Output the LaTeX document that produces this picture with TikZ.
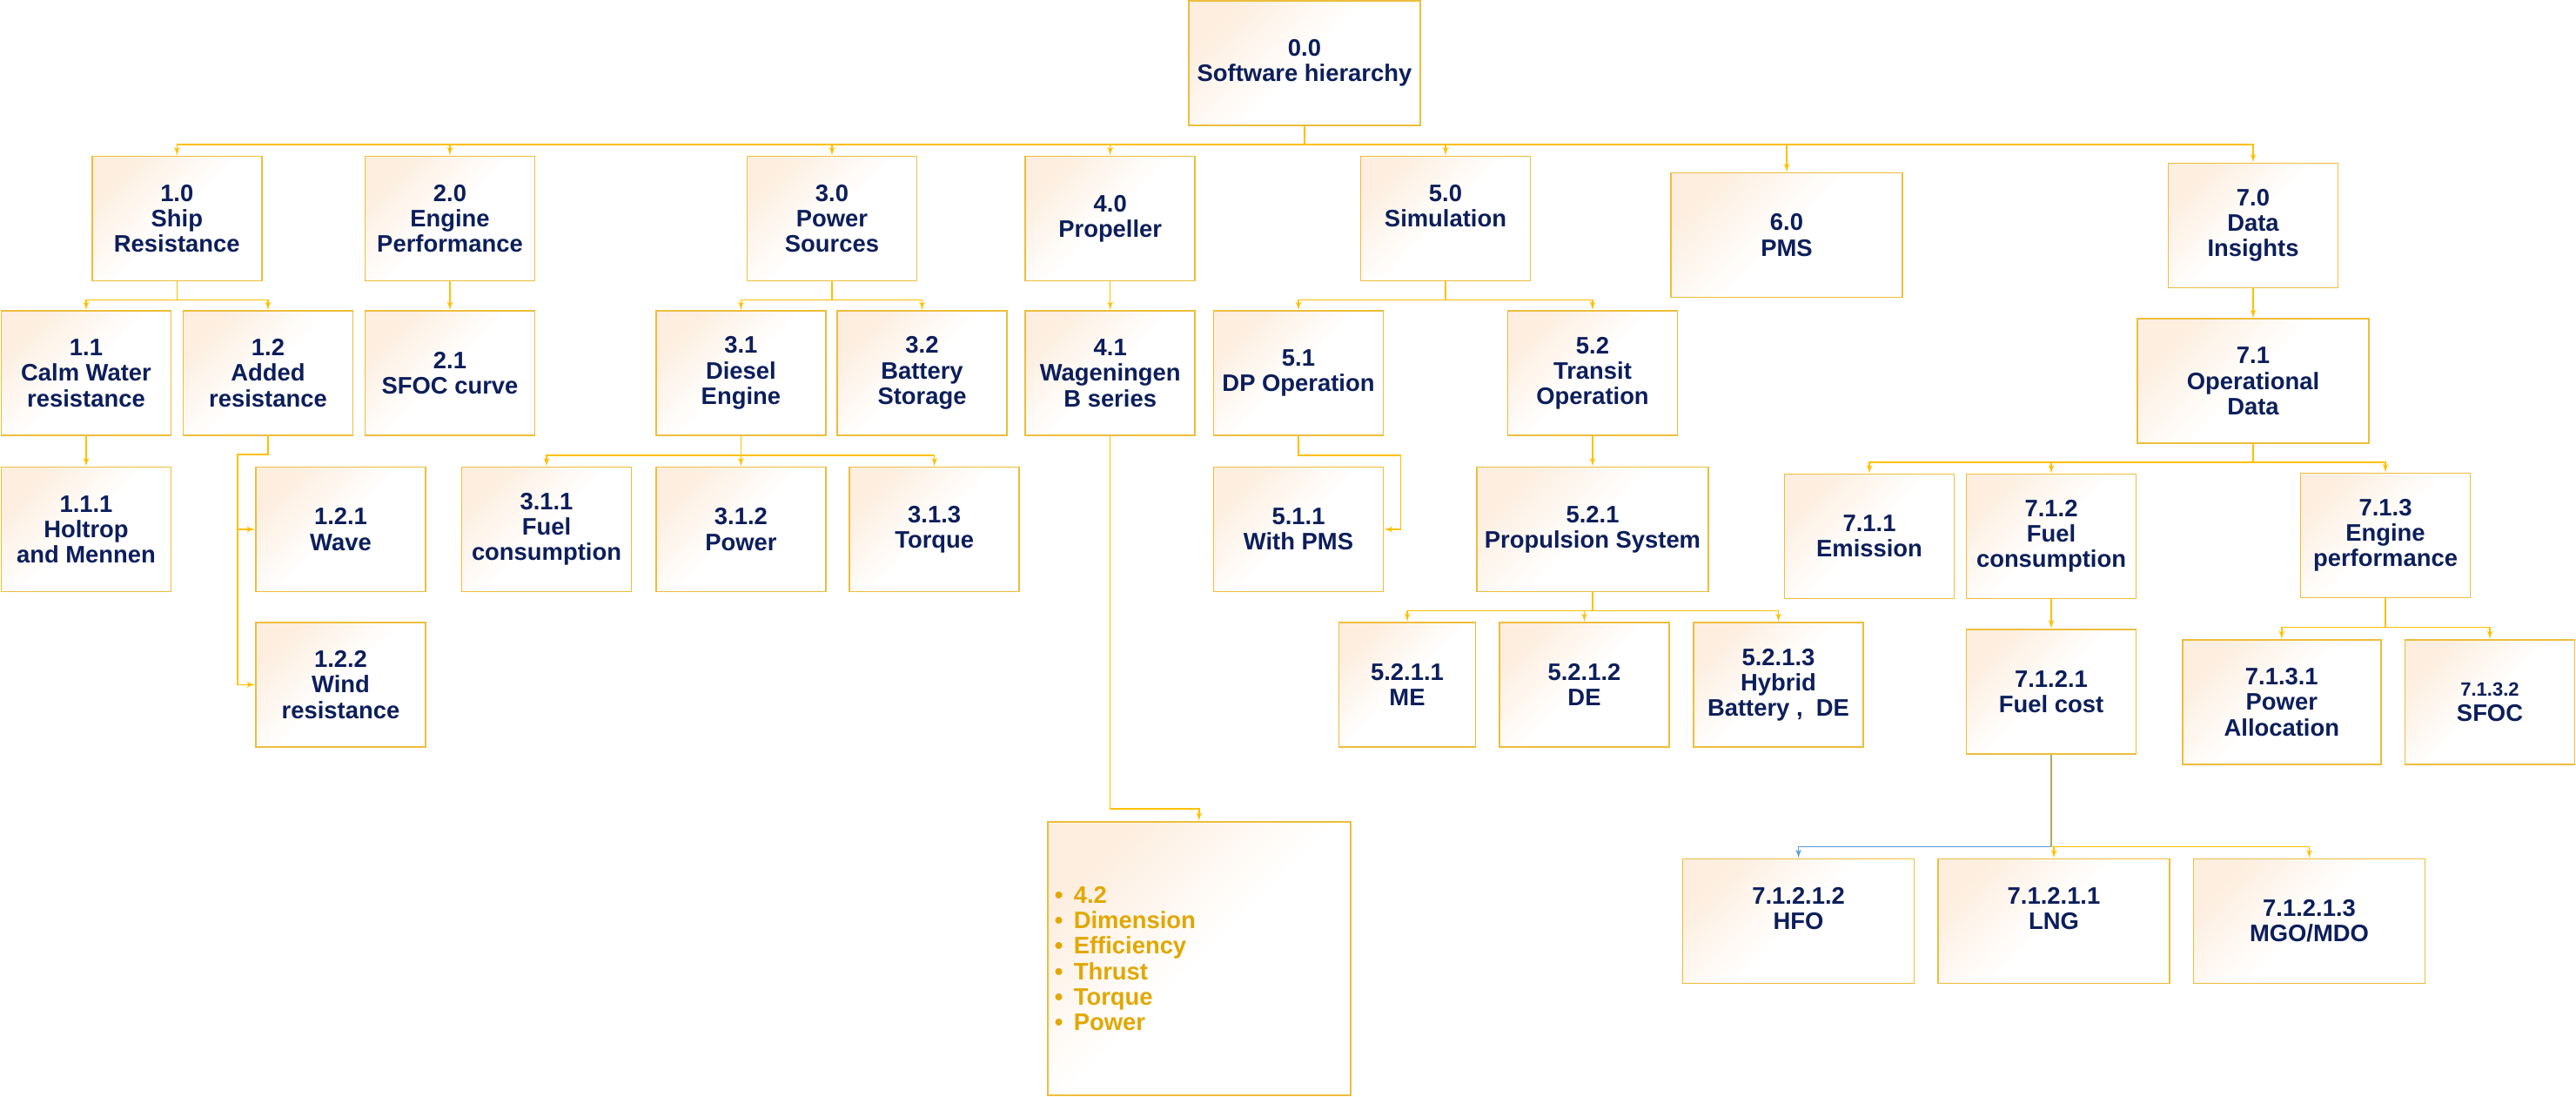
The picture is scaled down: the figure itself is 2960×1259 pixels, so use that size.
\documentclass[tikz,border=0pt]{standalone}
\usepackage{fontspec}
\setmainfont{Liberation Sans}
\usetikzlibrary{arrows}
\definecolor{navy}{HTML}{0C1E5B}
\definecolor{gold}{HTML}{E2A700}
\definecolor{frame}{HTML}{EDBE3C}
\definecolor{wire}{HTML}{FFC000}
\definecolor{peach}{HTML}{FDEEDF}
\definecolor{wireblue}{HTML}{5B9BD5}
\definecolor{wireolive}{HTML}{A9AC62}

\begin{document}
\begin{tikzpicture}[x=0.5pt,y=-0.5pt]
\tikzset{box/.style = {shape=rectangle,draw=frame,line width=0.85pt,top color=peach,bottom color=white,middle color=white,shading angle=45,minimum width=97.5pt,minimum height=71.5pt,inner sep=1pt,align=center,text=navy,font=\bfseries\fontsize{13.7}{14.6}\selectfont}}
\tikzset{wide/.style = {minimum width=133pt}}
\tikzset{edge/.style = {->,> = latex',color=wire,line width=0.7pt}}
\tikzset{stem/.style = {color=wireolive,line width=0.7pt}}
\useasboundingbox (0,0) rectangle (2960,1259);

% vertices
\node[box,wide] (n00) at (1499,72.5) {0.0\\Software hierarchy};

\node[box] (n10) at (203.3,251) {1.0\\Ship\\Resistance};
\node[box] (n20) at (517,251) {2.0\\Engine\\Performance};
\node[box] (n30) at (956,251) {3.0\\Power\\Sources};
\node[box] (n40) at (1275.7,251) {4.0\\Propeller};
\node[box] (n50) at (1661,251) {5.0\\Simulation\\\mbox{}};
\node[box,wide] (n60) at (2053,270) {6.0\\PMS};
\node[box] (n70) at (2589,259) {7.0\\Data\\Insights};

\node[box] (n11) at (99,428.5) {1.1\\Calm Water\\resistance};
\node[box] (n12) at (308,428.5) {1.2\\Added\\resistance};
\node[box] (n21) at (517,428.5) {2.1\\SFOC curve};
\node[box] (n31) at (851.4,428.5) {3.1\\Diesel\\Engine};
\node[box] (n32) at (1059.5,428.5) {3.2\\Battery\\Storage};
\node[box] (n41) at (1275.7,428.5) {4.1\\Wageningen\\B series};
\node[box] (n51) at (1492,428.5) {5.1\\DP Operation};
\node[box] (n52) at (1830,428.5) {5.2\\Transit\\Operation};
\node[box,wide] (n71) at (2589,437.7) {7.1\\Operational\\Data};

\node[box] (n111) at (99,608) {1.1.1\\Holtrop\\and Mennen};
\node[box] (n121) at (391.5,608) {1.2.1\\Wave};
\node[box] (n311) at (628,608) {3.1.1\\Fuel\\consumption};
\node[box] (n312) at (851.4,608) {3.1.2\\Power};
\node[box] (n313) at (1073.7,608) {3.1.3\\Torque};
\node[box] (n511) at (1492,608) {5.1.1\\With PMS};
\node[box,wide] (n521) at (1830,608) {5.2.1\\Propulsion System};
\node[box] (n711) at (2148,616) {7.1.1\\Emission};
\node[box] (n712) at (2357,616) {7.1.2\\Fuel\\consumption};
\node[box] (n713) at (2741,615) {7.1.3\\Engine\\performance};

\node[box] (n122) at (391.5,786.5) {1.2.2\\Wind\\resistance};
\node[box,minimum width=78.5pt] (n5211) at (1617,786.5) {5.2.1.1\\ME};
\node[box] (n5212) at (1820.5,786.5) {5.2.1.2\\DE};
\node[box] (n5213) at (2043.5,786.5) {5.2.1.3\\Hybrid\\Battery , \ DE};
\node[box] (n7121) at (2357,794.3) {7.1.2.1\\Fuel cost};
\node[box,minimum width=114pt] (n7131) at (2621.8,806.4) {7.1.3.1\\Power\\Allocation};
\node[box] (n7132) at (2861,806.4) {{\fontsize{11}{12}\selectfont 7.1.3.2}\\SFOC};

\node[box,wide] (n71212) at (2066.6,1058) {7.1.2.1.2\\HFO\\\mbox{}};
\node[box,wide] (n71211) at (2360,1058) {7.1.2.1.1\\LNG\\\mbox{}};
\node[box,wide] (n71213) at (2653.5,1058) {7.1.2.1.3\\MGO/MDO};

\node[box,minimum width=174pt,minimum height=157.3pt,text width=166pt,inner xsep=4pt,align=left,text=gold] (n42) at (1377.8,1101) {\makebox[11pt][l]{\textbullet}4.2\\\makebox[11pt][l]{\textbullet}Dimension\\\makebox[11pt][l]{\textbullet}Efficiency\\\makebox[11pt][l]{\textbullet}Thrust\\\makebox[11pt][l]{\textbullet}Torque\\\makebox[11pt][l]{\textbullet}Power};

% bends
\coordinate (k12) at (273,522);
\coordinate (k41) at (1377.8,929);
\coordinate (k51) at (1609.6,523);

%edges
\foreach \c in {n10,n20,n30,n40,n50,n60,n70}
  \draw[edge] (n00.south) -- ++(0,21) -| (\c);
\foreach \c in {n11,n12} \draw[edge] (n10.south) -- ++(0,21) -| (\c);
\draw[edge] (n20) -- (n21);
\foreach \c in {n31,n32} \draw[edge] (n30.south) -- ++(0,21) -| (\c);
\draw[edge] (n40) -- (n41);
\foreach \c in {n51,n52} \draw[edge] (n50.south) -- ++(0,21) -| (\c);
\draw[edge] (n70) -- (n71);

\draw[edge] (n11) -- (n111);
\foreach \c in {n121,n122} \draw[edge] (n12.south) |- (k12) |- (\c);
\foreach \c in {n311,n312,n313} \draw[edge] (n31.south) -- ++(0,22) -| (\c);
\draw[edge] (n41.south) |- (k41) -- (n42);
\draw[edge] (n51.south) |- (k51) |- (n511);
\draw[edge] (n52) -- (n521);
\foreach \c in {n5211,n5212,n5213} \draw[edge] (n521.south) -- ++(0,21) -| (\c);
\foreach \c in {n711,n712,n713} \draw[edge] (n71.south) -- ++(0,21) -| (\c);
\draw[edge] (n712) -- (n7121);
\foreach \c in {n7131,n7132} \draw[edge] (n713.south) -- ++(0,33) -| (\c);

\draw[stem] (n7121.south) -- ++(0,106) coordinate (k712);
\draw[edge,color=wireblue] (k712) -| (n71212);
\foreach \c in {n71211,n71213} \draw[edge] (k712) -| (\c);

\end{tikzpicture}
\end{document}
